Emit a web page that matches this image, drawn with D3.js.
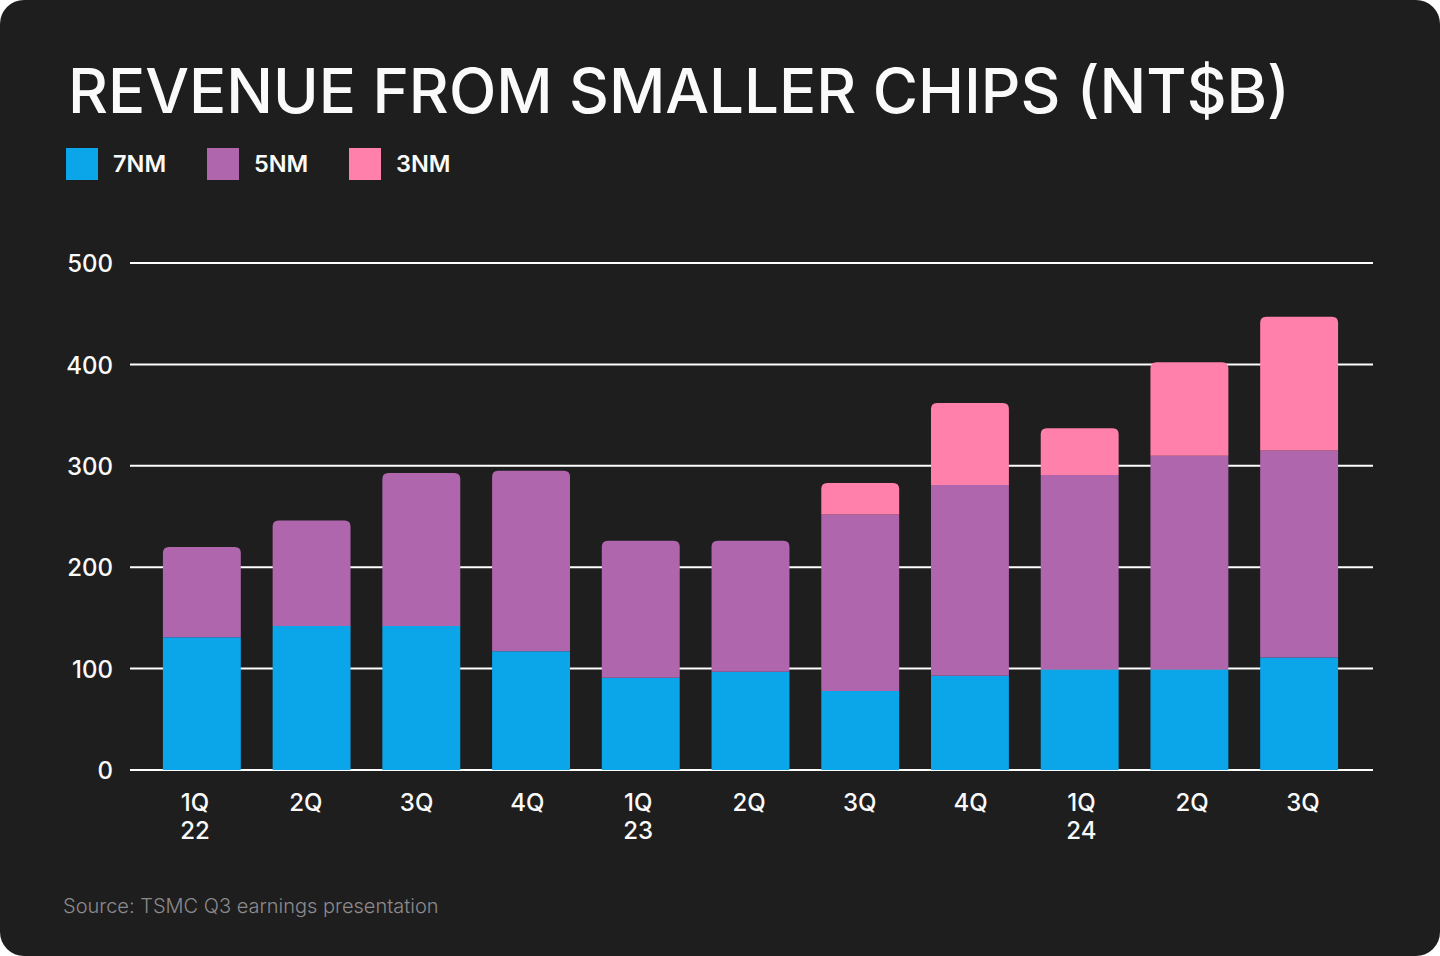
<!DOCTYPE html>
<html>
<head>
<meta charset="utf-8">
<script src="https://cdn.jsdelivr.net/npm/d3@7"></script>
<style>
  html, body { margin: 0; padding: 0; background: #ffffff; }
  svg { display: block; font-family: Inter, "Noto Sans", sans-serif; }
</style>
</head>
<body>
<script>
// ---- Data ----
const categories = ["1Q22","2Q22","3Q22","4Q22","1Q23","2Q23","3Q23","4Q23","1Q24","2Q24","3Q24"];
const tickLabels = [["1Q","22"],["2Q"],["3Q"],["4Q"],["1Q","23"],["2Q"],["3Q"],["4Q"],["1Q","24"],["2Q"],["3Q"]];
const series = ["7NM","5NM","3NM"];
const values7nm = [131, 142, 142, 117, 91, 97, 78, 93, 99, 99, 111];
const values5nm = [89, 104, 151, 178, 135, 129, 174, 188, 192, 211, 204];
const values3nm = [0, 0, 0, 0, 0, 0, 31, 81, 46, 92, 132];
const yTicks = [0, 100, 200, 300, 400, 500];
const colors = ["#0ba5ea", "#b066ad", "#ff80ab"];

const W = 1440, H = 956;
const svg = d3.select("body").append("svg").attr("width", W).attr("height", H);

svg.append("rect").attr("x", 0).attr("y", 0).attr("width", W).attr("height", H)
  .attr("rx", 24).attr("fill", "#1e1e1e");

// Title
const title = svg.append("text").attr("x", 68).attr("y", 113)
  .attr("fill", "#fafafa").attr("font-size", 62).attr("font-weight", 500)
  .text("REVENUE FROM SMALLER CHIPS (NT$B)");
const tw = title.node().getComputedTextLength();
if (tw > 0) title.attr("font-size", 62 * 1222 / tw);

// Legend
const legendX = [66, 207, 349];
series.forEach((s, i) => {
  svg.append("rect").attr("x", legendX[i]).attr("y", 148).attr("width", 32).attr("height", 32)
    .attr("fill", colors[i]);
  svg.append("text").attr("x", legendX[i] + 47).attr("y", 172)
    .attr("fill", "#fafafa").attr("font-size", 23.5).attr("font-weight", 600)
    .text(s);
});

// Scales
const x = d3.scaleBand().domain(categories).range([147, 1354]).paddingInner(0.29).paddingOuter(0.145);
const xLabel = d3.scalePoint().domain(categories).range([195, 1303]);
const y = d3.scaleLinear().domain([0, 500]).range([770, 263]);

// Grid
const grid = svg.append("g");
grid.selectAll("line").data(yTicks).join("line")
  .attr("x1", 130).attr("x2", 1373)
  .attr("y1", d => y(d)).attr("y2", d => y(d))
  .attr("stroke", "#ffffff").attr("stroke-width", 2);

// Y axis labels
const yAxis = d3.axisLeft(y).tickValues(yTicks).tickSize(0).tickPadding(0);
const yg = svg.append("g").attr("transform", "translate(113,0)").call(yAxis);
yg.select(".domain").remove();
yg.selectAll("text").attr("fill", "#fafafa").attr("font-size", 24).attr("font-weight", 500)
  .attr("font-family", "Inter, 'Noto Sans', sans-serif").attr("dy", "0.36em");

// Stacked data
const rows = categories.map((c, i) => ({ cat: c, "7NM": values7nm[i], "5NM": values5nm[i], "3NM": values3nm[i] }));
const stack = d3.stack().keys(series)(rows);

function barPath(x0, w, yTop, yBot, r) {
  r = Math.min(r, (yBot - yTop));
  if (r <= 0) return `M${x0},${yBot}H${x0 + w}V${yTop}H${x0}Z`;
  return `M${x0},${yBot}V${yTop + r}Q${x0},${yTop} ${x0 + r},${yTop}H${x0 + w - r}Q${x0 + w},${yTop} ${x0 + w},${yTop + r}V${yBot}Z`;
}

const topIndex = rows.map(r => r["3NM"] > 0 ? 2 : 1);

stack.forEach((layer, li) => {
  svg.append("g").selectAll("path").data(layer).join("path")
    .attr("fill", colors[li])
    .attr("d", (d, i) => {
      if (d[1] - d[0] <= 0) return null;
      const isTop = topIndex[i] === li;
      return barPath(x(categories[i]), x.bandwidth(), y(d[1]), y(d[0]), isTop ? 6 : 0);
    });
});

// X labels
const xg = svg.append("g");
categories.forEach((c, i) => {
  const t = xg.append("text").attr("x", xLabel(c)).attr("y", 811)
    .attr("text-anchor", "middle").attr("fill", "#fafafa")
    .attr("font-size", 24).attr("font-weight", 500);
  tickLabels[i].forEach((line, k) => {
    t.append("tspan").attr("x", xLabel(c)).attr("dy", k === 0 ? 0 : 28).text(line);
  });
});

// Source
svg.append("text").attr("x", 63).attr("y", 913)
  .attr("fill", "#8d8a8d").attr("font-size", 20).attr("font-weight", 300)
  .text("Source: TSMC Q3 earnings presentation");
</script>
</body>
</html>
